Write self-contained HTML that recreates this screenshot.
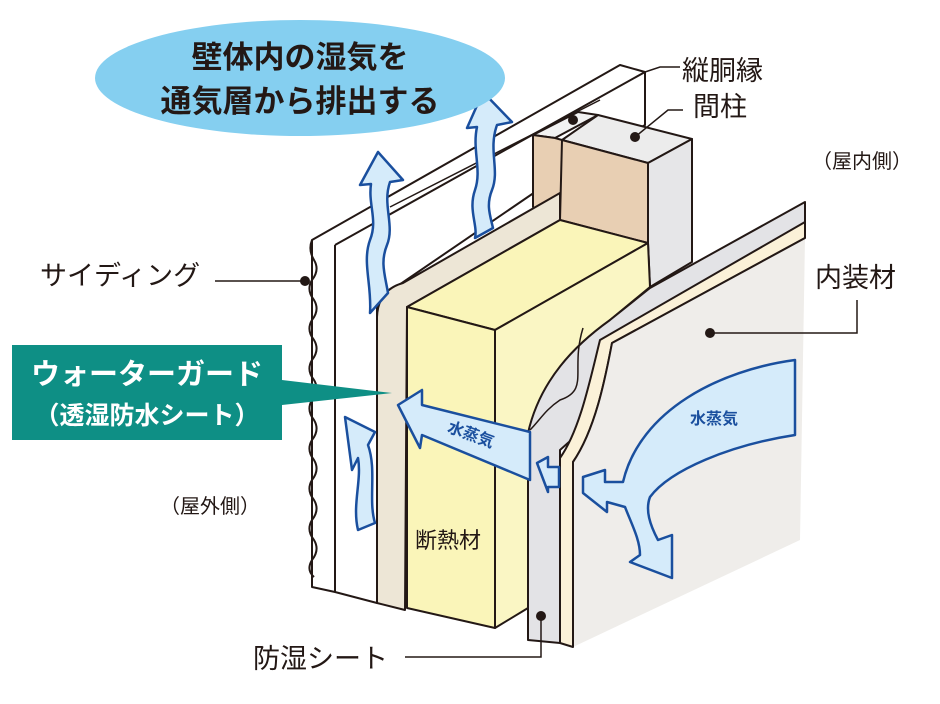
<!DOCTYPE html>
<html><head><meta charset="utf-8"><style>
html,body{margin:0;padding:0;background:#fff;}
svg{display:block;}
text{font-family:"Liberation Sans","Noto Sans CJK JP",sans-serif;}
</style></head><body>
<svg width="940" height="704" viewBox="0 0 940 704" xmlns="http://www.w3.org/2000/svg">
<g stroke="#231815" stroke-width="2" stroke-linejoin="round">
<!-- siding -->
<polygon points="312,240 620,65 645,72 645,125 560,175 377,300 377,603 335,592 312,587" fill="#fff"/>
<line x1="335" y1="245" x2="645" y2="72" />
<line x1="335" y1="245" x2="335" y2="592"/>
<line x1="390" y1="207" x2="600" y2="100" stroke-width="1.5"/>
<path d="M312,240 q-4,10 2,20 q6,10 -2,20 q-6,10 2,20 q6,10 -2,20 q-6,10 2,20 q6,10 -2,20 q-6,10 2,20 q6,10 -2,20 q-6,10 2,20 q6,10 -2,20 q-6,10 2,20 q6,10 -2,20 q-6,10 2,20 q6,10 -2,20 q-6,10 2,20 q6,10 -2,20 q-6,10 2,17" fill="none"/>
<!-- studs -->
<polygon points="533,135 578,112 598,115 555,138" fill="#f2f2f2"/>
<polygon points="533,135 555,138 562,140 562,220 533,207" fill="#e8cfb3"/>
<polygon points="562,140 598,115 692,139 648,163" fill="#ececec"/>
<polygon points="562,140 648,163 648,243 560,220" fill="#e8cfb3"/>
<polygon points="648,163 692,139 692,262 650,287 648,243" fill="#e6e6e8"/>
<!-- waterguard -->
<path d="M377,603 L377,317 Q378,290 403,283 L560,193 L560,220 L407,307 L405,610 Z" fill="#ede6d6"/>
<!-- insulation -->
<polygon points="407,307 560,220 648,243 495,330" fill="#faf5b9"/>
<polygon points="407,307 495,330 495,628 407,608" fill="#faf5b9"/>
<polygon points="495,330 648,243 650,287 610,320 528,433 528,608 495,628" fill="#faf6c4"/>
<!-- vapor sheet -->
<path d="M528,640 L528,433 C540,380 575,345 610,320 L650,288 L805,202 L805,232 L560,450 L560,643 Z" fill="#e3e3e6"/>
<path d="M583,328 C570,370 590,390 560,400 C545,410 540,420 530,430" fill="none" stroke-width="1.5"/>
<!-- interior board -->
<path d="M560,643 L560,458 C580,430 590,380 600,340 L805,222 L805,238 L612,343 C605,380 595,430 573,462 L573,647 Z" fill="#fbf1d8"/>
<path d="M573,647 L573,462 C595,430 605,380 612,343 L805,238 L800,540 Z" fill="#efedea" stroke="none"/>
<path d="M573,647 L573,462 C595,430 605,380 612,343 L805,238" fill="none"/>
</g>
<!-- arrows -->
<g fill="#d5ebfa" stroke="#1a4f9e" stroke-width="2.5" stroke-linejoin="round">
<path d="M378,152 L360,185 L371,184 C368,205 378,220 370,240 C362,262 372,285 370,313 L388,293 C385,275 380,262 387,245 C395,225 382,205 390,182 L403,180 Z"/>
<path d="M483,92 L467,128 L477,127 C472,150 482,170 475,190 C468,210 478,225 475,238 L493,228 C490,215 486,205 492,190 C500,170 488,150 497,125 L512,122 Z"/>
<path d="M345,417 L352,470 L358,458 C362,480 352,505 358,530 L375,523 C368,500 377,470 368,445 L375,432 Z"/>
<path d="M398,405 L422,390 L422,405 L530,432 L530,480 L422,435 L420,448 Z"/>
<path d="M537,463 L548,457 L548,467 L559,467 L559,487 L548,487 L548,492 Z"/>
<path d="M795,360 C720,370 640,410 623,482 L605,482 L605,470 L583,477 L583,493 L607,512 L607,502 L625,507 C632,525 640,540 640,555 L630,562 L672,578 L672,535 L658,540 C650,525 645,510 650,497 C670,470 730,445 795,435 Z"/>
</g>
<g fill="#1a4f9e" font-weight="bold" font-size="16">
<text x="445" y="440" transform="rotate(20 470 440)">水蒸気</text>
<text x="690" y="424">水蒸気</text>
</g>
<!-- speech bubble -->
<ellipse cx="300" cy="78" rx="205" ry="58" fill="#85cff0"/>
<g font-size="31" font-weight="bold" fill="#231815" text-anchor="middle">
<text x="300" y="68">壁体内の湿気を</text>
<text x="300" y="112">通気層から排出する</text>
</g>
<!-- teal label -->
<polygon points="12,345 282,345 282,380 392,393 282,405 282,440 12,440" fill="#0e8f85"/>
<text x="147" y="384" font-size="29" font-weight="bold" fill="#fff" text-anchor="middle">ウォーターガード</text>
<text x="147" y="424" font-size="25" font-weight="bold" fill="#fff" text-anchor="middle">（透湿防水シート）</text>
<!-- labels & leaders -->
<g stroke="#231815" stroke-width="1.5" fill="none">
<polyline points="215,281 305,281"/>
<polyline points="645,72 660,67 680,67"/>
<polyline points="635,137 668,110 683,110"/>
<polyline points="710,333 857,333 857,300"/>
<polyline points="405,657 541,657 541,616"/>
</g>
<g fill="#231815">
<circle cx="305" cy="281" r="5"/>
<circle cx="573" cy="120" r="5"/>
<circle cx="635" cy="137" r="5"/>
<circle cx="710" cy="333" r="5"/>
<circle cx="541" cy="616" r="5"/>
</g>
<g font-size="27" fill="#231815">
<text x="40" y="285">サイディング</text>
<text x="682" y="80">縦胴縁</text>
<text x="693" y="116">間柱</text>
<text x="815" y="287">内装材</text>
<text x="253" y="668">防湿シート</text>
<text x="415" y="548" font-size="22">断熱材</text>
</g>
<g font-size="20" fill="#231815">
<text x="812" y="168">（屋内側）</text>
<text x="160" y="513">（屋外側）</text>
</g>
</svg>
</body></html>
